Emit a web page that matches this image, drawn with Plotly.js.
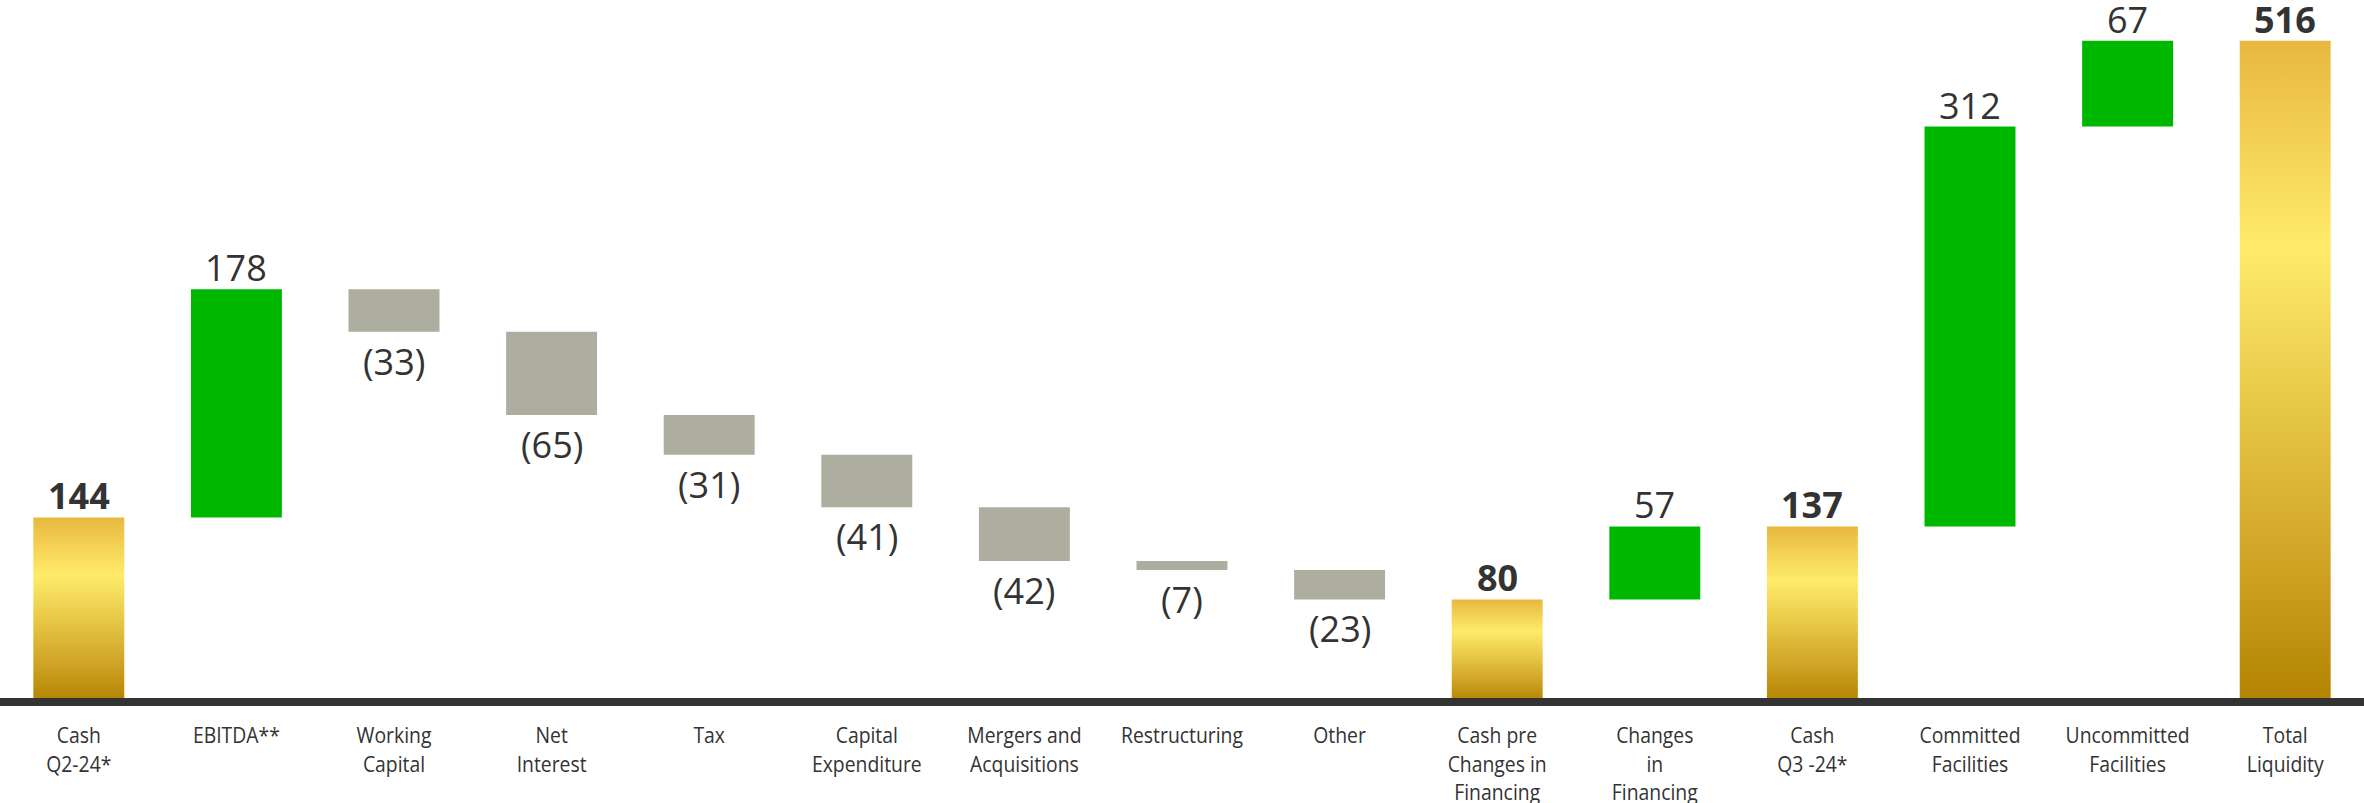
<!DOCTYPE html>
<html>
<head>
<meta charset="utf-8">
<script src="https://cdn.plot.ly/plotly-3.0.1.min.js"></script>
<style>
html,body{margin:0;padding:0;background:#fff;}
#chart{width:2364px;height:803px;}
</style>
</head>
<body>
<div id="chart"></div>
<script>
const categories = ['Cash<br>Q2-24*', 'EBITDA**', 'Working<br>Capital', 'Net<br>Interest', 'Tax',
  'Capital<br>Expenditure', 'Mergers and<br>Acquisitions', 'Restructuring', 'Other',
  'Cash pre<br>Changes in<br>Financing', 'Changes<br>in<br>Financing', 'Cash<br>Q3 -24*',
  'Committed<br>Facilities', 'Uncommitted<br>Facilities', 'Total<br>Liquidity'];
const values = [144, 178, -33, -65, -31, -41, -42, -7, -23, 80, 57, 137, 312, 67, 516];
const kinds = ['total', 'up', 'down', 'down', 'down', 'down', 'down', 'down', 'down',
  'total', 'up', 'total', 'up', 'up', 'total'];

const GREEN = '#00B700', GRAY = '#ADAE9F', GOLD = '#E0B83A', TXT = '#333333';

// compute floating bar bases from running sum
const bases = [], tops = [], bottoms = [];
let run = 0;
values.forEach((v, i) => {
  if (kinds[i] === 'total') { bases.push(0); run = v; }
  else { bases.push(run); run += v; }
  tops.push(Math.max(bases[i], bases[i] + values[i]));
  bottoms.push(Math.min(bases[i], bases[i] + values[i]));
});
const xs = categories.map((c, i) => i);

function traceFor(kind, color, name) {
  const x = [], y = [], b = [];
  xs.forEach(i => { if (kinds[i] === kind) { x.push(i); y.push(values[i]); b.push(bases[i]); } });
  return { type: 'bar', name: name, x: x, y: y, base: b, width: 0.577,
    marker: { color: color, line: { width: 0 } }, hoverinfo: 'skip' };
}

const data = [traceFor('total', GOLD, 'total'), traceFor('up', GREEN, 'up'), traceFor('down', GRAY, 'down')];

const annotations = xs.map(i => {
  const neg = values[i] < 0;
  const bold = kinds[i] === 'total';
  return {
    x: i, y: neg ? bottoms[i] : tops[i], xref: 'x', yref: 'y',
    text: neg ? '(' + Math.abs(values[i]) + ')' : String(values[i]),
    showarrow: false, yanchor: neg ? 'top' : 'bottom', yshift: neg ? -3 : -5,
    font: { family: 'Open Sans, sans-serif', size: 36, color: TXT, weight: bold ? 'bold' : 'normal' }
  };
});

const layout = {
  width: 2364, height: 803,
  margin: { l: 0, r: 0, t: 10, b: 101, pad: 0 },
  paper_bgcolor: '#fff', plot_bgcolor: '#fff',
  showlegend: false, barmode: 'overlay',
  xaxis: { range: [-0.5, 14.5], tickvals: xs, ticktext: categories, showgrid: false, zeroline: false,
    showline: false, ticks: '', ticklabelstandoff: 18,
    tickfont: { family: 'Open Sans, sans-serif', size: 22, color: TXT } },
  yaxis: { range: [0, 540], visible: false, showgrid: false, zeroline: false, fixedrange: true },
  shapes: [
    { type: 'line', xref: 'paper', yref: 'paper', x0: 0, x1: 1, y0: 0, y1: 0, layer: 'above',
      line: { color: '#333333', width: 8 } }
  ],
  annotations: annotations
};

Plotly.newPlot('chart', data, layout, { staticPlot: true, displayModeBar: false }).then(gd => {
  const svg = gd.querySelector('svg.main-svg');
  const ns = 'http://www.w3.org/2000/svg';
  let defs = svg.querySelector('defs');
  if (!defs) { defs = document.createElementNS(ns, 'defs'); svg.insertBefore(defs, svg.firstChild); }
  const grad = document.createElementNS(ns, 'linearGradient');
  grad.setAttribute('id', 'goldGrad');
  grad.setAttribute('x1', '0'); grad.setAttribute('y1', '0');
  grad.setAttribute('x2', '0'); grad.setAttribute('y2', '1');
  [[0, '#E8B83F'], [0.31, '#FFEB6B'], [0.55, '#E8C847'], [0.8, '#CFA224'], [1, '#B38300']].forEach(s => {
    const st = document.createElementNS(ns, 'stop');
    st.setAttribute('offset', s[0]); st.setAttribute('stop-color', s[1]);
    grad.appendChild(st);
  });
  defs.appendChild(grad);
  const traces = gd.querySelectorAll('.barlayer .trace');
  traces[0].querySelectorAll('path').forEach(p => p.style.setProperty('fill', 'url(#goldGrad)'));
  // narrow the category labels horizontally, like the condensed labels of the original
  gd.querySelectorAll('g.xtick').forEach(g => {
    const bb = g.getBBox();
    const cx = bb.x + bb.width / 2;
    g.setAttribute('transform', 'translate(' + cx + ',0) scale(0.88,1) translate(' + (-cx) + ',0)');
  });
});
</script>
</body>
</html>
